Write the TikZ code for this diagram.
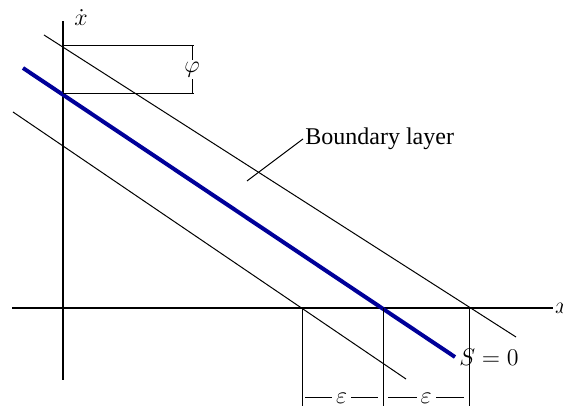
\documentclass[tikz,border=0pt]{standalone}
\usepackage{fontspec}
\setmainfont{Liberation Serif}
\begin{document}
\begin{tikzpicture}[x=0.5pt, y=-0.5pt, font=\large]
            \useasboundingbox (0,0) rectangle (563,406);
            % Osy
            \draw[line width=1pt] (12,308) -- (553,308) node[right, inner sep=0.5pt] (xlab) {$x$};
            \draw[line width=1pt] (63,380) -- (63,21);
            \node[inner sep=0pt] (xdot) at (81,18) {$\dot x$};

            % Hranice vrstvy (tenke cary)
            \draw[line width=0.5pt] (44,35) -- (516,337);
            \draw[line width=0.5pt] (13,112) -- (406,379);

            % Klouzava primka S = 0
            \draw[line width=2pt, blue!60!black] (23,68) -- (455,357) coordinate (send);
            \node[anchor=west, inner sep=2pt] (slab) at (send) {$S=0$};

            % Vyznaceni sirky phi
            \draw[line width=0.5pt] (63,46) -- (194,46);
            \draw[line width=0.5pt] (63,94) -- (194,94);
            \draw[line width=0.5pt] (192,46) -- (192,94)
                node[midway, fill=white, inner sep=1pt] (phi) {$\varphi$};

            % Popisek
            \node[anchor=west, inner sep=1pt] (bl) at (303,139) {Boundary layer};
            \draw[line width=0.5pt] (247,181) -- (bl.west);

            % Vyznaceni epsilon
            \foreach \x in {302, 383, 469} {
                \draw[line width=0.5pt] (\x,308) -- (\x,406);
            }
            \draw[line width=0.5pt] (305,398) -- (378,398)
                node[midway, fill=white, inner sep=2pt] (eps1) {$\varepsilon$};
            \draw[line width=0.5pt] (388,398) -- (464,398)
                node[midway, fill=white, inner sep=2pt] (eps2) {$\varepsilon$};
        \end{tikzpicture}
\end{document}
